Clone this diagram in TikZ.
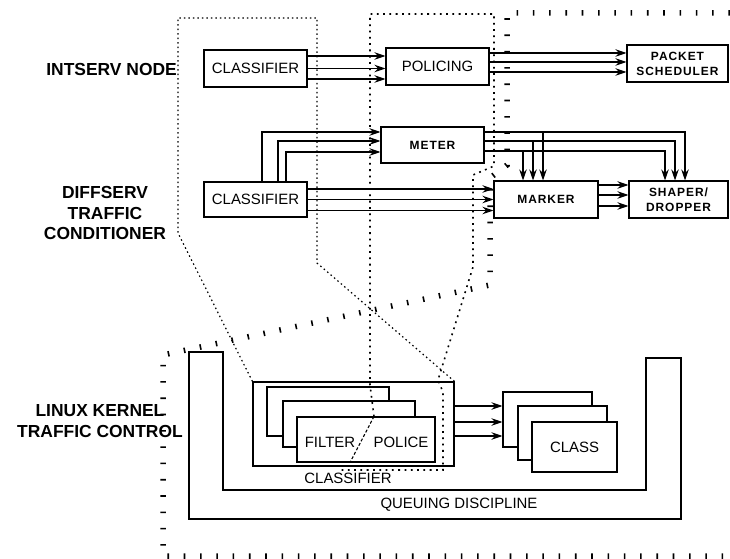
\documentclass[tikz,border=0pt]{standalone}
\usepackage{fontspec}
\setmainfont{Liberation Sans}
\usetikzlibrary{arrows.meta, calc}

\begin{document}
\begin{tikzpicture}[
  x=1bp, y=-1bp,
  box/.style={draw, line width=1.1bp, inner sep=0pt, align=center,
    fill=white, font=\fontsize{15}{17}\selectfont},
  smallbox/.style={box, font=\bfseries\fontsize{12}{15}\selectfont\addfontfeature{LetterSpace=8}},
  lbl/.style={font=\bfseries\fontsize{17.5}{21}\selectfont, align=center, inner sep=0pt},
  txt/.style={font=\fontsize{15}{17}\selectfont, inner sep=0pt},
  arr/.style={-{Stealth[length=11bp,width=7.5bp]}, line width=1.1bp},
  slash/.style={line width=1.1bp, dash pattern=on 3bp off 2bp},
  dots/.style={line width=1.2bp, dash pattern=on 1.5bp off 3bp},
  sparse/.style={line width=1.6bp, dash pattern=on 1.8bp off 4.5bp},
  ticks/.style={line width=5.5bp, dash pattern=on 1.6bp off 14.7bp}
]
  \useasboundingbox (0,0) rectangle (730,559);

  % left labels
  \node[lbl, anchor=east] (islbl) at (177,70) {INTSERV NODE};
  \node[lbl] (dslbl) at (105,213) {DIFFSERV\\TRAFFIC\\CONDITIONER};
  \node[lbl] (lxlbl) at (100,421) {LINUX KERNEL\\TRAFFIC CONTROL};

  % intserv node
  \node[box, minimum width=103bp, minimum height=37bp] (isclf) at (255.5,68.5) {CLASSIFIER};
  \node[box, minimum width=103bp, minimum height=37bp] (pol) at (437.5,66.5) {POLICING};
  \node[smallbox, minimum width=101bp, minimum height=37bp] (psch) at (677.5,63.5) {PACKET\\SCHEDULER};

  \foreach \d in {-12.5,0,10.5}
    \draw[arr] ($(isclf.east)+(0,\d)$) -- ($(isclf.east -| pol.west)+(0,\d)$);
  \foreach \d in {-13.5,-4.5,5.5}
    \draw[arr] ($(pol.east)+(0,\d)$) -- ($(pol.east -| psch.west)+(0,\d)$);

  % diffserv traffic conditioner
  \node[smallbox, minimum width=103bp, minimum height=36bp] (mtr) at (432.5,145) {METER};
  \node[box, minimum width=103bp, minimum height=35bp] (dsclf) at (255.5,199.5) {CLASSIFIER};
  \node[smallbox, minimum width=104bp, minimum height=37bp] (mrk) at (546,199.5) {MARKER};
  \node[smallbox, minimum width=99bp, minimum height=37bp] (shp) at (678.5,199.5) {SHAPER/\\DROPPER};

  \foreach \dx/\dy in {6.5/-13, 22.5/-4, 30.5/7}
    \draw[arr] ($(dsclf.north)+(\dx,0)$) |- ($(mtr.west)+(0,\dy)$);
  \foreach \d in {-10.5,0,11}
    \draw[arr] ($(dsclf.east)+(0,\d)$) -- ($(dsclf.east -| mrk.west)+(0,\d)$);
  \foreach \dy/\sx/\mx in {-13/6.5/-3, -4/-3.5/-13, 6/-13.5/-23} {
    \draw[arr] ($(mtr.east)+(0,\dy)$) -| ($(shp.north)+(\sx,0)$);
    \draw[arr] ($(mtr.east)+(0,\dy)$) -| ($(mrk.north)+(\mx,0)$);
  }
  \foreach \d in {-14.5,-4.5,6.5}
    \draw[arr] ($(mrk.east)+(0,\d)$) -- ($(mrk.east -| shp.west)+(0,\d)$);

  % linux kernel traffic control
  \draw[line width=1.1bp] (189,352) -- (223,352) -- (223,490) -- (646,490)
    -- (646,358) -- (681,358) -- (681,519) -- (189,519) -- cycle;
  \node[txt] (qdlbl) at (459,505) {QUEUING DISCIPLINE};

  \node[box, minimum width=201bp, minimum height=84bp] (lxclf) at (353.5,424) {};
  \node[txt] (cllbl) at (348,478) {CLASSIFIER};
  \node[box, minimum width=122bp, minimum height=49bp] (f1) at (328,411.5) {};
  \node[box, minimum width=132bp, minimum height=46bp] (f2) at (349,424) {};
  \node[box, minimum width=138bp, minimum height=45bp] (f3) at (366,439.5) {};
  \node[txt] (fltr) at (330,442) {FILTER};
  \node[txt] (plce) at (401,442) {POLICE};
  \draw[slash] ($(f3.north)+(8,0)$) -- ($(f3.south)+(-16,0)$);

  \node[box, minimum width=89bp, minimum height=55bp] (c1) at (547.5,419.5) {};
  \node[box, minimum width=89bp, minimum height=54bp] (c2) at (562.5,433) {};
  \node[box, minimum width=85bp, minimum height=50bp] (c3) at (574.5,447) {CLASS};

  \foreach \d in {-18,-2,12}
    \draw[arr] ($(lxclf.east)+(0,\d)$) -- ($(lxclf.east -| c1.west)+(0,\d)$);

  % mapping outlines
  \draw[dots] (lxclf.north west) -- (178,233) -- (178,18) -- (317,18)
    -- (317,263) -- (lxclf.north east);
  \draw[sparse] ($(f3.north)+(8,0)$) -- (370,385) -- (370,14) -- (494,14)
    -- (494,166) -- (473,175) -- (473,267) -- (438,380) -- (443,392)
    -- (443,470) -- (340,470);
  \draw[ticks] (730,13) -- (507,13) -- (507,165) -- (490,178) -- (490,285)
    -- (163,355) -- (163,556) -- (730,556);
\end{tikzpicture}
\end{document}
